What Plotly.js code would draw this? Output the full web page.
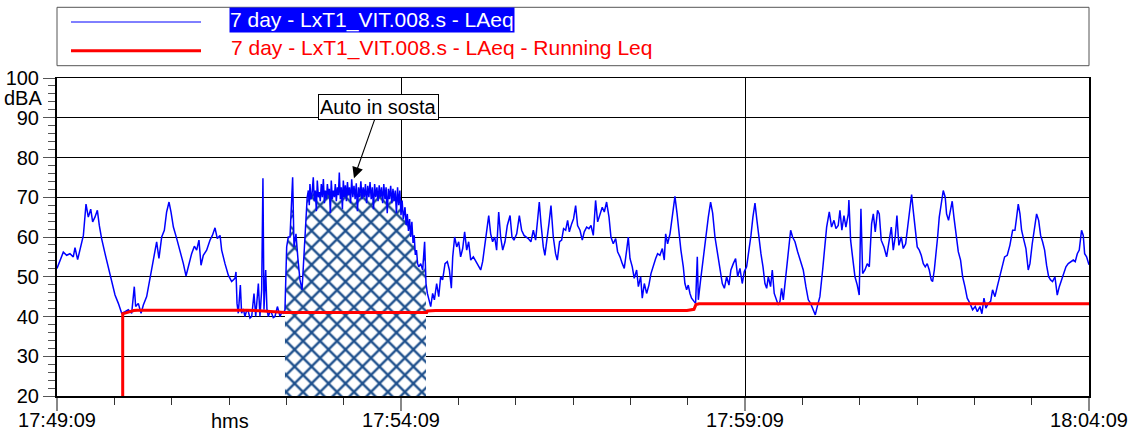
<!DOCTYPE html>
<html>
<head>
<meta charset="utf-8">
<script src="https://cdn.plot.ly/plotly-3.0.1.min.js"></script>
<style>html,body{margin:0;padding:0;background:#fff;}#chart{width:1134px;height:432px;}</style>
</head>
<body>
<div id="chart"></div>
<script>
// ---- data (seconds from 17:49:09, dBA) ----
const seriesNames = ["7 day - LxT1_VIT.008.s - LAeq", "7 day - LxT1_VIT.008.s - LAeq - Running Leq"];
const startTime = "2024-01-01 17:49:09";
const durationSec = 900;
const hatchStartSec = 198.8;
const hatchEndSec = 322.5;

const laeqSec = [
0,2.6,5.5,8.4,11.3,14.2,15.7,18.0,20.1,23.0,25.3,27.3,29.4,31.1,33.1,35.2,36.9,38.9,41.9,44.8,
47.7,50.6,53.5,56.4,59.3,62.2,65.1,67.4,68.6,70.9,73.3,75.3,78.2,81.1,84.0,86.9,88.9,91.3,93.6,95.6,
97.7,99.4,101.5,104.4,107.3,110.2,112.5,114.5,117.4,119.8,121.8,123.8,125.6,127.6,130.5,133.4,135.5,137.8,139.8,142.2,
143.6,146.5,149.4,152.3,155.2,156.1,157.0,158.1,159.9,161.0,162.5,163.9,165.4,166.9,168.3,169.8,171.8,173.3,175.6,177.0,
178.5,179.6,180.5,182.0,183.1,184.3,185.8,187.2,188.6,190.1,192.2,194.5,196.0,197.4,198.8,200.3,201.7,
203.2,205.5,206.7,208.4,210.2,211.9,213.7,215.4,217.2,218.2,219.2,220.0,220.6,221.5,222.4,223.5,224.4,225.3,226.2,227.0,
228.0,228.8,229.6,230.5,231.4,232.3,233.2,234.0,235.0,235.8,236.7,237.5,238.4,239.2,240.1,241.0,241.9,242.7,243.6,244.5,
245.4,246.2,247.1,248.0,248.9,249.7,250.6,251.5,252.4,253.3,254.2,255.1,256.0,257.0,258.0,259.0,260.0,261.0,262.0,263.0,
264.0,265.0,266.0,267.0,268.0,269.0,270.0,271.0,272.0,273.0,274.0,275.0,276.0,277.0,278.0,279.0,280.0,281.0,282.0,283.0,
284.0,285.0,286.0,287.0,288.0,289.0,290.0,291.0,292.0,293.0,294.0,295.0,296.0,297.0,298.0,299.0,300.0,301.0,302.0,303.5,
304.5,305.5,306.5,307.5,308.5,309.5,310.5,311.5,312.5,313.5,314.5,315.5,317.2,318.9,320.6,321.8,323.0,324.7,325.9,327.6,
329.1,331.1,332.9,334.6,336.3,338.4,340.4,342.2,343.9,345.1,346.8,348.6,350.3,352.0,353.8,355.5,357.3,359.0,360.8,363.1,
365.4,367.7,369.5,371.2,373.0,374.7,376.5,378.2,379.9,381.7,383.4,385.2,386.9,388.7,390.7,392.7,395.1,396.8,398.5,400.9,
403.2,405.2,407.3,411.0,413.3,415.4,417.4,419.1,420.6,422.1,424.1,425.5,427.9,429.0,430.8,432.8,434.8,436.3,438.3,440.1,
441.8,443.6,445.3,446.8,448.8,450.5,452.3,454.0,456.1,458.1,459.8,461.9,463.9,465.7,467.7,469.7,471.5,473.5,475.5,477.3,
479.3,481.4,483.1,485.1,487.2,488.9,491.0,493.0,494.7,496.8,498.2,499.7,501.7,503.4,505.5,507.0,509.0,510.4,512.2,514.2,
516.2,518.0,520.0,522.1,523.8,525.8,527.9,529.6,530.8,532.5,534.6,536.6,538.9,540.7,542.4,544.1,546.2,547.6,549.1,550.5,
552.0,553.4,555.5,556.9,558.4,559.3,561.3,563.6,565.7,568.0,570.0,571.8,573.8,575.8,578.2,580.2,582.0,584.0,586.0,587.7,
589.8,591.8,593.6,595.6,597.6,599.4,601.4,603.5,605.2,606.9,608.7,610.4,612.2,613.9,615.7,617.4,618.9,620.3,622.3,623.8,
625.5,627.6,629.0,630.5,631.9,633.4,635.4,637.8,639.8,641.5,643.6,645.9,647.9,650.8,653.1,655.2,657.2,659.5,661.3,663.0,
665.3,667.7,669.7,671.2,673.5,675.5,677.6,679.3,681.3,682.8,684.5,686.3,688.0,690.1,690.6,692.1,693.8,695.9,697.9,699.6,
701.1,702.6,704.6,706.6,708.4,710.4,711.9,713.6,715.6,717.1,718.8,721.2,723.5,725.8,727.6,729.3,731.0,732.5,734.2,736.3,
738.0,740.1,741.5,743.8,745.3,746.7,748.5,750.2,752.0,753.7,755.5,757.2,758.9,760.7,762.4,763.6,765.1,766.5,768.0,769.4,
771.4,772.9,774.6,775.8,777.5,779.3,780.7,782.2,783.9,786.0,788.0,789.8,791.8,793.8,796.2,798.5,800.8,802.6,804.9,806.6,
808.4,810.1,812.1,814.2,815.9,818.0,820.0,822.3,824.4,826.4,828.7,831.0,833.4,835.4,836.9,838.3,839.8,841.2,843.2,845.0,
847.0,848.5,850.5,852.3,854.3,856.1,857.8,859.5,861.3,863.0,864.8,866.5,868.2,870.3,872.3,874.1,876.1,878.1,879.9,881.9,
883.9,886.3,888.0,889.8,891.5,893.5,895.0,896.2,897.9,900.0
];
const laeqDb = [
52.1,54.2,56.2,55.4,55.8,55.0,57.3,54.3,56.7,60.4,68.3,65.0,67.0,63.8,65.0,66.7,62.9,59.6,55.8,52.5,
49.2,45.4,43.3,40.8,41.2,41.7,40.8,47.5,42.5,43.3,40.8,42.9,45.0,50.0,54.2,58.8,54.6,60.0,61.7,66.3,
68.8,66.3,62.5,59.6,56.7,53.3,50.2,52.5,55.8,57.7,56.7,59.2,52.9,55.4,56.7,59.2,60.4,62.3,59.6,60.4,
56.7,53.3,50.4,48.8,49.6,51.2,43.3,40.8,47.9,40.8,41.9,40.0,41.5,41.2,39.6,40.0,45.8,40.0,48.3,40.0,
46.7,74.8,41.7,51.7,41.7,40.0,41.3,40.8,39.7,40.0,42.5,40.0,41.0,40.8,41.7,57.5,60.0,
60.0,75.0,57.5,60.8,54.2,49.2,46.7,55.8,66.7,70.0,71.7,68.0,73.3,69.5,70.8,75.0,69.0,71.7,66.5,74.2,
70.0,71.3,69.0,73.3,70.0,74.6,68.5,71.7,69.5,73.3,70.5,72.1,66.0,74.2,69.5,71.7,70.0,73.3,69.0,72.5,
70.5,76.2,69.5,72.5,67.0,74.2,70.0,73.0,69.0,73.8,70.5,72.5,68.5,74.5,70.0,72.9,69.5,73.5,66.5,72.5,
70.0,74.0,69.5,72.5,70.0,73.3,68.5,72.9,70.0,73.8,69.5,72.5,67.0,73.3,70.0,72.5,69.0,73.0,70.0,72.5,
68.5,73.3,69.5,72.5,66.0,72.1,69.5,72.9,68.5,72.1,69.0,71.7,66.0,72.5,68.0,71.7,65.5,69.2,64.5,67.5,
63.0,65.8,61.5,64.5,60.0,63.8,58.5,60.4,55.5,56.7,53.3,52.5,53.3,51.7,58.8,48.3,45.8,43.3,42.5,45.8,
44.2,48.3,45.0,50.0,49.2,53.3,53.8,51.7,47.1,55.0,60.0,57.5,58.8,55.0,57.1,61.3,56.7,58.8,54.2,55.0,
53.8,52.9,51.7,53.8,57.9,60.4,65.4,60.8,58.8,60.0,56.7,66.3,60.0,56.7,58.8,62.9,65.4,60.0,59.2,60.8,
65.4,61.7,60.4,59.6,58.8,61.7,59.2,64.2,68.8,63.3,57.5,55.4,60.0,63.3,67.9,60.0,55.8,54.2,58.8,59.2,
62.1,61.7,64.2,61.3,63.3,64.6,67.9,62.9,61.7,59.2,61.3,62.5,62.1,62.9,60.4,69.2,63.8,65.4,67.5,66.3,
68.8,65.0,60.0,58.3,59.6,56.3,55.0,53.3,52.1,56.7,60.0,54.6,52.5,49.6,51.7,47.5,50.0,44.6,48.3,45.8,
47.9,50.8,52.9,54.6,55.8,55.4,57.1,54.2,60.8,58.3,60.8,65.0,70.2,66.0,60.4,56.7,52.5,48.3,46.7,47.9,
45.8,44.6,43.8,43.3,55.0,44.2,49.2,55.0,60.8,65.0,68.8,66.0,60.0,56.3,51.7,48.3,47.1,50.0,47.9,51.7,
53.3,54.6,50.0,52.1,48.3,51.3,52.5,56.3,60.4,65.0,68.5,64.2,59.2,55.8,52.5,48.3,47.1,50.0,47.5,51.7,
45.8,43.8,42.9,43.8,47.1,44.2,49.2,55.8,61.7,60.0,58.8,56.3,54.6,51.7,47.5,44.2,43.3,41.7,40.4,42.5,
45.0,51.7,57.5,62.5,66.3,62.5,64.2,62.1,62.9,66.7,61.7,65.4,62.5,65.8,69.3,59.2,55.0,50.0,47.9,45.4,
67.1,50.8,51.7,53.3,52.5,63.3,65.8,61.3,66.7,65.8,59.2,57.5,55.0,59.6,62.5,56.7,60.0,65.4,57.9,60.0,
57.1,58.3,62.1,67.5,70.7,66.7,62.1,57.5,56.7,55.4,53.3,52.5,53.3,51.7,49.2,48.8,51.7,55.0,60.0,65.0,
68.8,71.7,70.0,65.8,64.2,66.7,69.0,65.0,60.8,56.3,54.2,50.0,47.5,44.6,43.3,41.7,42.5,41.2,42.5,40.7,
44.6,42.1,43.3,43.8,46.7,45.0,47.5,50.0,52.1,55.0,55.4,57.9,61.7,61.7,65.0,68.3,65.8,61.7,59.2,57.1,
51.7,53.3,58.3,62.1,65.8,64.2,60.4,58.8,56.7,52.9,50.0,49.2,48.8,50.0,45.4,47.5,49.2,50.8,52.5,53.3,
53.8,54.2,53.8,55.8,56.7,61.7,60.4,55.8,55.0,53.0
];

const runSec = [57.3, 57.3, 60.0, 63.0, 67.0, 70.0, 165.7, 180.0, 192.0, 198.8, 322.4, 323.0, 330.0, 549.4, 555.5, 557.2, 560.0, 900.0];
const runDb  = [20.0, 40.7, 40.9, 41.2, 41.5, 41.6, 41.6, 41.4, 41.2, 41.0, 41.0, 41.4, 41.5, 41.5, 41.8, 43.0, 43.2, 43.2];

const annotationText = "Auto in sosta";
const annotationSec = 259.0;
const annotationDb = 74.8;

// ---- helpers ----
const T0 = Date.parse(startTime.replace(' ', 'T') + 'Z');
function toDate(s) {
  return new Date(T0 + Math.round(s * 1000)).toISOString().replace('T', ' ').replace('Z', '');
}

const hatchX = [], hatchY = [];
for (let i = 0; i < laeqSec.length; i++) {
  if (laeqSec[i] >= hatchStartSec && laeqSec[i] <= hatchEndSec) {
    hatchX.push(toDate(laeqSec[i]));
    hatchY.push(laeqDb[i]);
  }
}

const FONT = 'Liberation Sans, Arial, sans-serif';

const traces = [
  {
    x: hatchX, y: hatchY, type: 'scatter', mode: 'lines',
    line: {width: 0, color: 'rgba(0,0,0,0)'},
    fill: 'tozeroy', fillcolor: '#ffffff',
    fillpattern: {shape: 'x', fgcolor: '#1d4f8c', bgcolor: '#ffffff', size: 12, solidity: 0.35},
    hoverinfo: 'skip'
  },
  {
    x: laeqSec.map(toDate), y: laeqDb, type: 'scatter', mode: 'lines',
    name: seriesNames[0], line: {color: '#0000ff', width: 1.5}
  },
  {
    x: runSec.map(toDate), y: runDb, type: 'scatter', mode: 'lines',
    name: seriesNames[1], line: {color: '#ff0000', width: 3}
  }
];

// legend geometry in paper coords (plot area = 57..1089 x 78..396 px)
const px = v => (v - 57) / 1032;
const py = v => (396 - v) / 318;

const layout = {
  width: 1134, height: 432,
  margin: {l: 57, r: 45, t: 78, b: 36, pad: 0},
  paper_bgcolor: '#ffffff', plot_bgcolor: '#ffffff',
  showlegend: false, hovermode: false,
  font: {family: FONT, size: 20, color: '#000'},
  xaxis: {
    type: 'date',
    range: [toDate(0), toDate(durationSec)],
    tick0: toDate(0), dtick: 300000,
    tickformat: '%H:%M:%S',
    ticks: 'outside', ticklen: 13, tickwidth: 2, tickcolor: '#888',
    ticklabelstandoff: -8,
    tickfont: {family: FONT, size: 20, color: '#000'},
    showgrid: true, gridcolor: '#000', gridwidth: 1,
    showline: true, linecolor: '#000', linewidth: 1.5, mirror: true,
    zeroline: false, fixedrange: true,
    minor: {tick0: toDate(0), dtick: 50000, ticks: 'outside', ticklen: 7, tickwidth: 1, tickcolor: '#333', showgrid: false}
  },
  yaxis: {
    range: [20, 100], tick0: 0, dtick: 10,
    ticks: 'outside', ticklen: 12, tickwidth: 1, tickcolor: '#555',
    tickfont: {family: FONT, size: 20, color: '#000'},
    showgrid: true, gridcolor: '#000', gridwidth: 1,
    showline: true, linecolor: '#000', linewidth: 2, mirror: true,
    zeroline: false, fixedrange: true,
    minor: {dtick: 2, ticks: 'outside', ticklen: 7, tickwidth: 1, tickcolor: '#555', showgrid: false}
  },
  shapes: [
    {type: 'rect', xref: 'paper', yref: 'paper', x0: 0, x1: 1, y0: py(65.7), y1: py(7.3),
     line: {color: '#555', width: 1}, fillcolor: 'rgba(0,0,0,0)'},
    {type: 'line', xref: 'paper', yref: 'paper', x0: px(71), x1: px(201), y0: py(22), y1: py(22),
     line: {color: '#0000ff', width: 1}},
    {type: 'line', xref: 'paper', yref: 'paper', x0: px(71), x1: px(201), y0: py(50.7), y1: py(50.7),
     line: {color: '#ff0000', width: 3}}
  ],
  annotations: [
    {xref: 'paper', yref: 'paper', x: px(229), y: py(19.5), xanchor: 'left', yanchor: 'middle',
     text: seriesNames[0], showarrow: false, bgcolor: '#0000ff', borderpad: 0,
     font: {family: FONT, size: 21, color: '#ffffff'}},
    {xref: 'paper', yref: 'paper', x: px(229), y: py(48), xanchor: 'left', yanchor: 'middle',
     text: seriesNames[1], showarrow: false,
     font: {family: FONT, size: 21, color: '#ff0000'}},
    {xref: 'x', yref: 'y', x: toDate(annotationSec), y: annotationDb,
     text: annotationText, showarrow: true, ax: 25, ay: -71,
     arrowhead: 2, arrowsize: 2, arrowwidth: 1.1, arrowcolor: '#000',
     bgcolor: '#ffffff', bordercolor: '#000', borderwidth: 1, borderpad: 1,
     font: {family: FONT, size: 20, color: '#000'}},
    {xref: 'paper', yref: 'y', x: 0, y: 95, xanchor: 'right', yanchor: 'middle', xshift: -13,
     text: 'dBA', showarrow: false, font: {family: FONT, size: 20, color: '#000'}},
    {xref: 'paper', yref: 'paper', x: px(230), y: 0, xanchor: 'center', yanchor: 'middle', yshift: -25,
     text: 'hms', showarrow: false, font: {family: FONT, size: 20, color: '#000'}}
  ]
};

Plotly.newPlot('chart', traces, layout, {displayModeBar: false, staticPlot: true});
</script>
</body>
</html>
